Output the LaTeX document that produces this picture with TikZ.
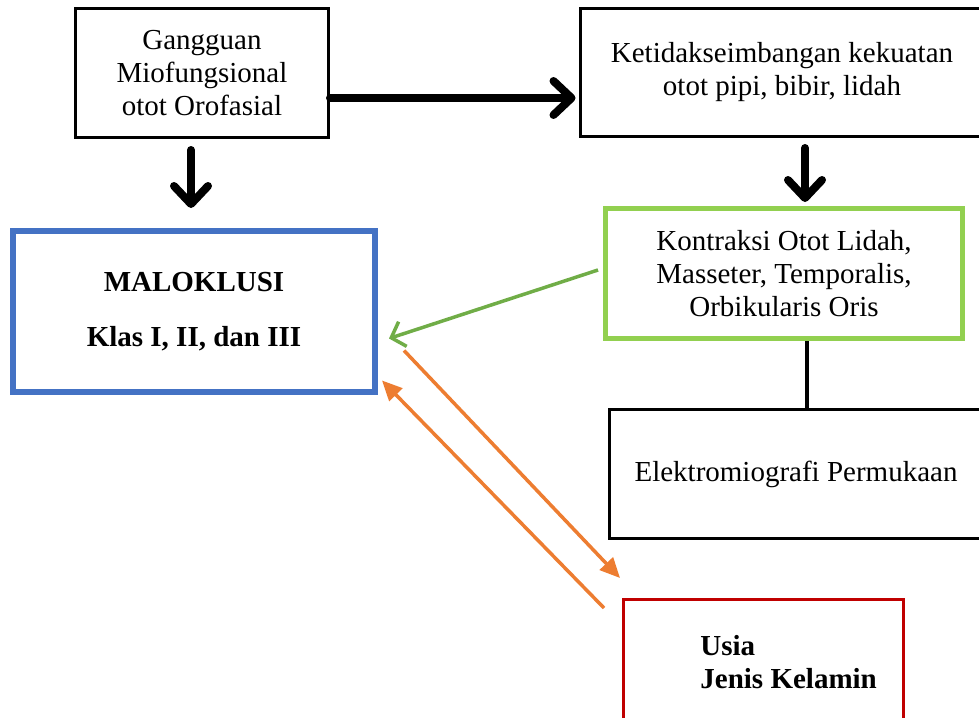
\documentclass[tikz,border=0pt]{standalone}
\usepackage{fontspec}
\setmainfont{Liberation Serif}
\usetikzlibrary{arrows.meta,calc}

\definecolor{boxblue}{HTML}{4472C4}
\definecolor{boxgreen}{HTML}{92D050}
\definecolor{arrgreen}{HTML}{70AD47}
\definecolor{arrorange}{HTML}{ED7D31}
\definecolor{boxred}{HTML}{C00000}

\tikzset{
  box/.style={draw, line width=1.5pt, align=center, inner sep=0pt,
    font=\fontsize{14.5}{16.5}\selectfont},
  bigarrow/.style={line width=4pt, line cap=round,
    -{Straight Barb[length=9pt,width=17pt,line cap=round,round]}},
  greenarrow/.style={line width=1.75pt, arrgreen,
    -{Straight Barb[length=6pt,width=13pt]}},
  orangearrow/.style={line width=1.75pt, arrorange,
    -{Triangle[length=10pt,width=9pt]}},
  link/.style={line width=1.75pt}
}

\begin{document}
\begin{tikzpicture}[x=0.5pt,y=-0.5pt]
\useasboundingbox (0,0) rectangle (979,717);

% boxes
\node[box, minimum width=126.5pt, minimum height=64.5pt] (gangguan) at (202,73)
  {Gangguan\\Miofungsional\\otot Orofasial};
\node[box, minimum width=202pt, minimum height=64pt] (ketidak) at (782,72.5)
  {Ketidakseimbangan kekuatan\\otot pipi, bibir, lidah};
\node[box, draw=boxblue, line width=3pt, minimum width=181pt, minimum height=80.5pt,
  font=\fontsize{14.5}{16.5}\selectfont\bfseries] (maloklusi) at (194,311.5)
  {MALOKLUSI\\[11pt]Klas I, II, dan III};
\node[box, draw=boxgreen, line width=2.5pt, minimum width=178.5pt, minimum height=65pt] (kontraksi) at (784,273.5)
  {Kontraksi Otot Lidah,\\Masseter, Temporalis,\\Orbikularis Oris};
\node[box, minimum width=187pt, minimum height=64.5pt] (emg) at (796,474)
  {Elektromiografi Permukaan};
\node[box, draw=boxred, minimum width=140pt, minimum height=80pt] (faktor) at (763.5,679.5) {};
\node[anchor=west, align=left, inner sep=0pt,
  font=\fontsize{14.5}{16.5}\selectfont\bfseries] (faktortext) at (700,662)
  {Usia\\Jenis Kelamin};

% arrows
\draw[bigarrow] ($(gangguan.south)+(-11,11)$) -- ($(maloklusi.north)+(-3,-20)$);
\draw[bigarrow] ($(gangguan.east)+(0,25)$) -- ($(ketidak.west)+(-3,25.5)$);
\draw[bigarrow] ($(ketidak.south)+(23,10)$) -- ($(kontraksi.north)+(21,-4)$);
\draw[link] ($(kontraksi.south)+(23,0)$) coordinate (k) -- (k |- emg.north);

\draw[greenarrow] ($(kontraksi.west)+(-5,-3.5)$) -- ($(maloklusi.east)+(11,27)$);
\draw[orangearrow] ($(maloklusi.east)+(26,39)$) -- ($(faktor.north west)+(-2,-20)$);
\draw[orangearrow] ($(faktor.north west)+(-18,10)$) -- ($(maloklusi.east)+(4,69)$);
\end{tikzpicture}
\end{document}
